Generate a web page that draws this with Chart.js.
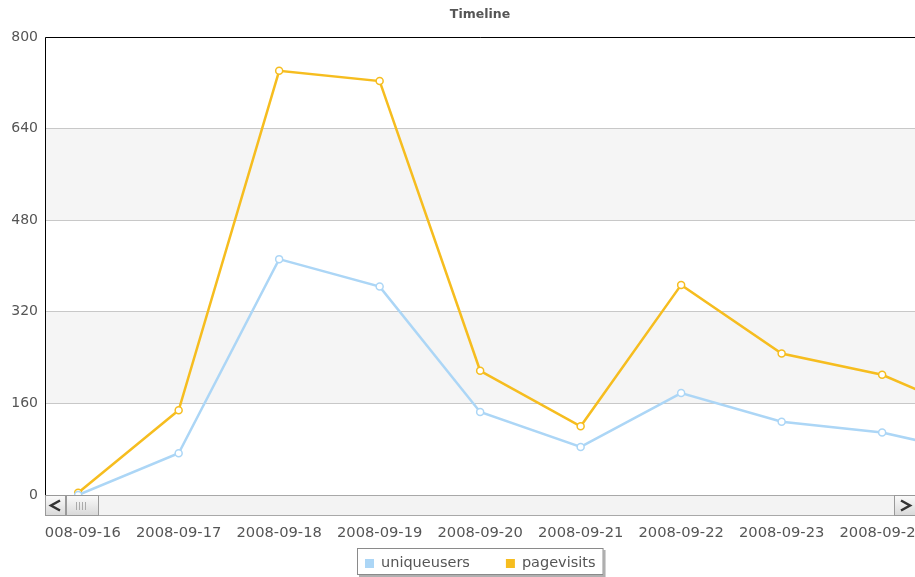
<!DOCTYPE html>
<html>
<head>
<meta charset="utf-8">
<title>Timeline</title>
<script src="https://cdn.jsdelivr.net/npm/chart.js@4/dist/chart.umd.min.js"></script>
<style>
html, body { margin: 0; padding: 0; background: #fff; overflow: hidden; }
#wrap { width: 915px; height: 577px; }
</style>
</head>
<body>
<div id="wrap"><canvas id="myChart" width="915" height="577"></canvas></div>
<script>
var dates = ['2008-09-16', '2008-09-17', '2008-09-18', '2008-09-19', '2008-09-20',
             '2008-09-21', '2008-09-22', '2008-09-23', '2008-09-24', '2008-09-25'];
var uniqueUsers = [0, 73, 412, 364, 145, 84, 178, 128, 109, 70];
var pageVisits = [4, 148, 741, 723, 217, 120, 367, 247, 210, 135];
var yStep = 160;
var yMax = 800;

var fontName = '"DejaVu Sans", Verdana, sans-serif';

function toPoints(arr) {
    var pts = [];
    for (var i = 0; i < arr.length; i++) {
        pts.push({x: i, y: arr[i]});
    }
    return pts;
}

// bands, frame, scrollbar and legend box
var decor = {
    id: 'decor',
    beforeDraw: function(chart) {
        var ctx = chart.ctx, a = chart.chartArea, y = chart.scales.y;
        ctx.save();
        ctx.fillStyle = '#f5f5f5';
        for (var v = yStep; v < yMax; v += yStep * 2) {
            var t = y.getPixelForValue(v + yStep), b = y.getPixelForValue(v);
            ctx.fillRect(a.left, t, a.right - a.left, b - t);
        }
        ctx.restore();
    },
    afterDraw: function(chart) {
        var ctx = chart.ctx, a = chart.chartArea;
        ctx.save();
        // frame
        ctx.strokeStyle = '#000';
        ctx.lineWidth = 1;
        ctx.beginPath();
        ctx.moveTo(a.left + 0.5, a.bottom);
        ctx.lineTo(a.left + 0.5, a.top + 0.5);
        ctx.lineTo(a.right, a.top + 0.5);
        ctx.stroke();

        // scrollbar
        var top = a.bottom, h = 21, L = a.left, R = a.right;
        ctx.fillStyle = '#f3f3f3';
        ctx.fillRect(L, top, R - L, h);
        ctx.strokeStyle = '#a8a8a8';
        ctx.beginPath();
        ctx.moveTo(L, top + 0.5); ctx.lineTo(R, top + 0.5);
        ctx.moveTo(L, top + h - 0.5); ctx.lineTo(R, top + h - 0.5);
        ctx.stroke();
        function button(x, w) {
            var g = ctx.createLinearGradient(0, top, 0, top + h);
            g.addColorStop(0, '#fbfbfb');
            g.addColorStop(1, '#d8d8d8');
            ctx.fillStyle = g;
            ctx.fillRect(x, top, w, h);
            ctx.strokeStyle = '#999';
            ctx.strokeRect(x + 0.5, top + 0.5, w - 1, h - 1);
        }
        button(L, 21);
        button(L + 21, 33);
        button(R - 21, 22);
        ctx.strokeStyle = '#333';
        ctx.lineWidth = 2.5;
        ctx.beginPath();
        ctx.moveTo(L + 15, top + 5.5); ctx.lineTo(L + 6, top + 10.5); ctx.lineTo(L + 15, top + 15.5);
        ctx.moveTo(R - 14, top + 5.5); ctx.lineTo(R - 5, top + 10.5); ctx.lineTo(R - 14, top + 15.5);
        ctx.stroke();
        ctx.strokeStyle = '#aaa';
        ctx.lineWidth = 1;
        ctx.beginPath();
        for (var k = 0; k < 4; k++) {
            ctx.moveTo(L + 31.5 + k * 3, top + 7);
            ctx.lineTo(L + 31.5 + k * 3, top + 15);
        }
        ctx.stroke();

        // first date label is cut at the plot edge
        ctx.fillStyle = '#fff';
        ctx.fillRect(0, top + h + 1, L, 30);

        // legend
        var ds = chart.data.datasets;
        ctx.font = '14.5px ' + fontName;
        var widths = [], total = 16;
        for (var i = 0; i < ds.length; i++) {
            widths.push(ctx.measureText(ds[i].label).width);
            total += 9 + 7 + widths[i];
            if (i > 0) total += 36;
        }
        var bx = Math.round((a.left + a.right) / 2 - total / 2), by = 548, bh = 27;
        ctx.fillStyle = '#b0b0b0';
        ctx.fillRect(bx + 2, by + 2, total, bh);
        ctx.fillStyle = '#fff';
        ctx.fillRect(bx, by, total, bh);
        ctx.strokeStyle = '#8a8a8a';
        ctx.strokeRect(bx + 0.5, by + 0.5, total - 1, bh - 1);
        var x = bx + 8;
        ctx.textBaseline = 'middle';
        for (var j = 0; j < ds.length; j++) {
            ctx.fillStyle = ds[j].borderColor;
            ctx.fillRect(x, by + 11, 9, 9);
            ctx.fillStyle = '#555';
            ctx.fillText(ds[j].label, x + 16, by + 15.5);
            x += 16 + widths[j] + 36;
        }
        ctx.restore();
    }
};

var ctx = document.getElementById('myChart').getContext('2d');
var chart = new Chart(ctx, {
    type: 'line',
    data: {
        datasets: [{
            label: 'uniqueusers',
            data: toPoints(uniqueUsers),
            borderColor: '#acd6f6',
            backgroundColor: '#acd6f6',
            borderWidth: 2.5,
            pointRadius: 3.5,
            pointBorderWidth: 1.5,
            pointBackgroundColor: '#fff',
            pointBorderColor: '#acd6f6',
            tension: 0
        }, {
            label: 'pagevisits',
            data: toPoints(pageVisits),
            borderColor: '#f6bd1f',
            backgroundColor: '#f6bd1f',
            borderWidth: 2.5,
            pointRadius: 3.5,
            pointBorderWidth: 1.5,
            pointBackgroundColor: '#fff',
            pointBorderColor: '#f6bd1f',
            tension: 0
        }]
    },
    options: {
        responsive: false,
        animation: false,
        layout: {
            autoPadding: false,
            padding: { left: 0, right: 0, top: 0, bottom: 32 }
        },
        plugins: {
            legend: { display: false },
            tooltip: { enabled: false },
            title: {
                display: true,
                text: 'Timeline',
                fullSize: false,
                color: '#555',
                font: { family: fontName, size: 12.5, weight: 'bold' },
                padding: { top: 7, bottom: 15 }
            }
        },
        scales: {
            x: {
                type: 'linear',
                min: -0.33,
                max: 8.327,
                grid: { display: false },
                border: { display: false },
                ticks: {
                    autoSkip: false,
                    maxRotation: 0,
                    padding: 21,
                    color: '#555',
                    font: { family: fontName, size: 14.7 },
                    callback: function(v) { return dates[v]; }
                },
                afterBuildTicks: function(s) {
                    s.ticks = dates.map(function(d, i) { return {value: i}; });
                },
                afterFit: function(s) {
                    s.height = 50;
                    s.paddingLeft = 0;
                    s.paddingRight = 0;
                }
            },
            y: {
                min: 0,
                max: yMax,
                grid: { color: '#c8c8c8', drawTicks: false },
                border: { display: false },
                ticks: {
                    stepSize: yStep,
                    padding: 7,
                    color: '#555',
                    font: { family: fontName, size: 14 }
                },
                afterFit: function(s) {
                    s.width = 45;
                    s.paddingTop = 0;
                    s.paddingBottom = 0;
                }
            }
        }
    },
    plugins: [decor]
});
</script>
</body>
</html>
